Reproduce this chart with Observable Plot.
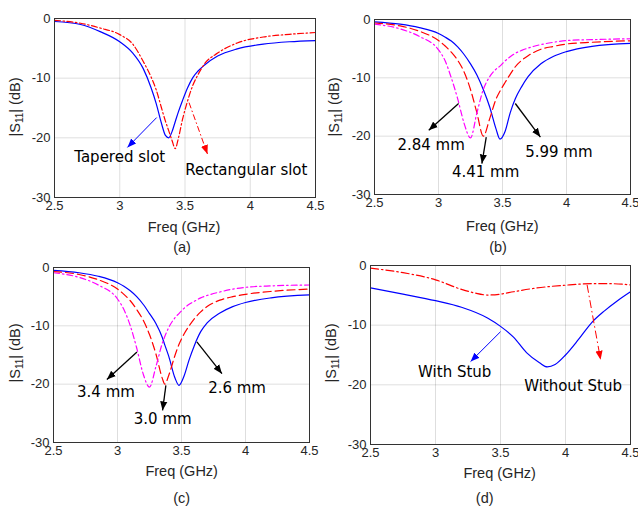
<!DOCTYPE html>
<html><head><meta charset="utf-8">
<script src="https://cdn.jsdelivr.net/npm/d3@7"></script>
<script src="https://cdn.jsdelivr.net/npm/@observablehq/plot@0.6"></script>
<style>
html,body{margin:0;padding:0;background:#fff;}
#root{position:relative;width:638px;height:506px;overflow:hidden;background:#fff;}
#root svg{position:absolute;overflow:visible;}
</style></head><body><div id="root"></div>
<script>
// ---------- shared ticks ----------
const xTicks = [2.5, 3, 3.5, 4, 4.5];
const yTicks = [0, -10, -20, -30];
const xLabel = "Freq (GHz)";
const captions = ["(a)", "(b)", "(c)", "(d)"];

// ---------- panel (a) ----------
const freqA = [2.5, 2.7, 2.85, 3.0, 3.1, 3.18, 3.24, 3.28, 3.32, 3.35, 3.375, 3.4, 3.425, 3.45, 3.48, 3.52, 3.56, 3.6, 3.65, 3.75, 3.9, 4.1, 4.3, 4.5];
const taperedSlot = [-0.5, -1.0, -2.2, -3.9, -5.8, -8.4, -11.6, -14.3, -17.6, -19.6, -20.0, -19.0, -17.3, -15.6, -13.8, -11.6, -9.9, -8.8, -7.8, -6.3, -5.1, -4.3, -3.9, -3.7];
const rectSlot = [-0.3, -0.8, -1.6, -2.7, -4.3, -7.2, -9.8, -12.0, -15.0, -17.2, -18.8, -20.4, -21.8, -20.0, -17.0, -13.8, -11.2, -9.4, -7.6, -5.8, -4.1, -3.1, -2.65, -2.35];
const labelsA = ["Tapered slot", "Rectangular slot"];
const labelXA = [3.0, 3.97];
const labelYA = [-23.2, -25.5];
const arrowsA = {x1: [3.283, 3.531], y1: [-16.6, -14.1], x2: [3.059, 3.672], y2: [-21.6, -22.7]};

// ---------- panel (b) ----------
const freqB = [2.5, 2.7, 2.85, 3.0, 3.05, 3.1, 3.15, 3.2, 3.25, 3.3, 3.35, 3.4, 3.45, 3.48, 3.52, 3.56, 3.6, 3.65, 3.7, 3.8, 3.9, 4.0, 4.2, 4.5];
const b599 = [-0.4, -0.8, -1.4, -2.4, -3.0, -3.7, -4.7, -6.0, -7.6, -9.5, -12.0, -15.0, -18.8, -20.5, -19.2, -16.0, -13.6, -11.5, -9.8, -7.6, -6.3, -5.5, -4.6, -4.1];
const b441 = [-0.6, -1.1, -2.0, -3.6, -4.5, -5.6, -7.0, -9.0, -12.0, -16.0, -20.0, -17.0, -13.6, -12.3, -10.8, -9.4, -8.1, -7.0, -6.2, -5.1, -4.6, -4.2, -3.9, -3.65];
const b284 = [-0.8, -1.6, -2.9, -5.2, -7.0, -10.0, -13.6, -17.8, -20.3, -16.0, -12.0, -9.8, -8.5, -8.0, -7.1, -6.4, -5.8, -5.3, -4.9, -4.3, -3.9, -3.6, -3.45, -3.3];
const labelsB = ["2.84 mm", "4.41 mm", "5.99 mm"];
const labelXB = [2.942, 3.368, 3.94];
const labelYB = [-21.6, -26.1, -22.7];
const arrowsB = {x1: [3.157, 3.373, 3.6], y1: [-14.4, -20.15, -14.4], x2: [2.924, 3.339, 3.796], y2: [-19.0, -24.7, -20.15]};

// ---------- panel (c) ----------
const freqC = [2.5, 2.7, 2.85, 3.0, 3.05, 3.1, 3.15, 3.2, 3.25, 3.3, 3.35, 3.37, 3.4, 3.45, 3.48, 3.52, 3.56, 3.6, 3.65, 3.7, 3.8, 3.9, 4.0, 4.2, 4.5];
const c26 = [-0.5, -0.9, -1.5, -2.6, -3.2, -4.0, -5.0, -6.3, -7.9, -9.6, -12.0, -13.3, -15.2, -19.0, -20.2, -18.6, -15.8, -13.4, -11.0, -9.5, -7.8, -6.7, -6.0, -5.2, -4.7];
const c30 = [-0.7, -1.2, -2.1, -3.7, -4.6, -5.7, -7.2, -9.0, -11.5, -14.8, -19.0, -20.0, -18.5, -15.0, -13.2, -11.4, -10.0, -8.8, -7.6, -6.7, -5.6, -5.0, -4.6, -4.1, -3.7];
const c34 = [-0.9, -1.7, -3.0, -5.4, -7.2, -10.0, -13.8, -18.2, -20.5, -17.0, -13.0, -11.8, -10.3, -8.6, -7.9, -7.0, -6.3, -5.8, -5.2, -4.8, -4.2, -3.7, -3.4, -3.15, -3.0];
const labelsC = ["3.4 mm", "3.0 mm", "2.6 mm"];
const labelXC = [2.91, 3.353, 3.934];
const labelYC = [-21.3, -26.0, -20.75];
const arrowsC = {x1: [3.152, 3.378, 3.62], y1: [-14.5, -20.2, -12.75], x2: [2.917, 3.352, 3.816], y2: [-19.2, -24.5, -18.2]};

// ---------- panel (d) ----------
const freqD = [2.5, 2.75, 3.0, 3.2, 3.4, 3.5, 3.6, 3.7, 3.8, 3.86, 3.92, 4.0, 4.1, 4.2, 4.3, 4.4, 4.5];
const withStub = [-3.75, -4.8, -5.9, -7.0, -8.8, -10.2, -12.0, -14.6, -16.3, -17.0, -16.6, -15.0, -12.4, -9.6, -7.6, -5.9, -4.4];
const freqD2 = [2.5, 2.75, 3.0, 3.2, 3.3, 3.4, 3.5, 3.6, 3.75, 4.0, 4.2, 4.35, 4.5];
const withoutStub = [-0.45, -1.2, -2.4, -4.0, -4.6, -4.95, -4.8, -4.4, -3.85, -3.3, -3.05, -3.05, -3.25];
const labelsD = ["With Stub", "Without Stub"];
const labelXD = [3.148, 4.058];
const labelYD = [-17.8, -20.2];
const arrowsD = {x1: [3.5, 4.166], y1: [-11.1, -3.25], x2: [3.27, 4.27], y2: [-16.1, -15.8]};

// ---------- drawing helpers ----------
const TICK_FONT = "'Liberation Sans', Arial, sans-serif";
const ANNOT_FONT = "'DejaVu Sans', Verdana, sans-serif";

function filledArrow(color) {
  const m = d3.create("svg:marker")
    .attr("viewBox", "-9 -4 10 8")
    .attr("markerWidth", 10).attr("markerHeight", 8)
    .attr("markerUnits", "userSpaceOnUse")
    .attr("orient", "auto")
    .attr("refX", 0).attr("refY", 0)
    .attr("fill", color).attr("stroke", "none");
  m.append("path").attr("d", "M-9,-3.6L0,0L-9,3.6Z");
  return m.node();
}

function drawPanel(cfg) {
  const marks = [
    Plot.gridX(xTicks, {stroke: "#000", strokeOpacity: 0.13}),
    Plot.gridY(yTicks, {stroke: "#000", strokeOpacity: 0.13}),
    Plot.axisX(xTicks, {tickSize: 0, tickPadding: 3, label: null, tickFormat: d => String(d)}),
    Plot.axisY(yTicks, {tickSize: 0, tickPadding: 4, label: null, tickFormat: d => String(d)})
  ];
  for (const s of cfg.series) {
    marks.push(Plot.line(s.v, {x: s.f, y: s.v, stroke: s.color, strokeWidth: 1.2, strokeDasharray: s.dash, curve: "monotone-x"}));
  }
  const a = cfg.arrows;
  const idx = a.x1.map((_, i) => i);
  idx.forEach(i => {
    marks.push(Plot.link([i], {x1: [a.x1[i]], y1: [a.y1[i]], x2: [a.x2[i]], y2: [a.y2[i]],
      stroke: cfg.arrowColors[i], strokeWidth: cfg.arrowWidth, strokeDasharray: cfg.arrowDash[i],
      markerEnd: filledArrow}));
  });
  marks.push(Plot.text(cfg.labels, {x: cfg.lx, y: cfg.ly, text: d => d, fontFamily: ANNOT_FONT, fontSize: 15, fill: "#000", textAnchor: "middle", lineAnchor: "middle"}));
  marks.push(Plot.frame({stroke: "#333", strokeWidth: 1}));

  const svg = Plot.plot({
    width: 319, height: 253,
    marginLeft: cfg.m[0], marginRight: cfg.m[1], marginTop: cfg.m[2], marginBottom: cfg.m[3],
    x: {domain: [2.5, 4.5]},
    y: {domain: [-30, 0]},
    style: {fontFamily: TICK_FONT, fontSize: "13px", color: "#262626", background: "transparent", overflow: "visible"},
    marks
  });
  const s = d3.select(svg);
  s.style("left", cfg.pos[0] + "px").style("top", cfg.pos[1] + "px");
  // x label and caption
  s.append("text").attr("x", cfg.xl[0]).attr("y", cfg.xl[1]).attr("text-anchor", "middle").attr("dominant-baseline", "central")
    .attr("font-family", TICK_FONT).attr("font-size", 14.5).attr("fill", "#262626").text(xLabel);
  s.append("text").attr("x", cfg.cap[0]).attr("y", cfg.cap[1]).attr("text-anchor", "middle").attr("dominant-baseline", "central")
    .attr("font-family", TICK_FONT).attr("font-size", 14.5).attr("fill", "#262626").text(cfg.caption);
  // y label with subscript
  const t = s.append("text").attr("transform", `translate(${cfg.yl[0]},${cfg.yl[1]}) rotate(-90)`)
    .attr("text-anchor", "middle").attr("dominant-baseline", "central")
    .attr("font-family", TICK_FONT).attr("font-size", 14.5).attr("fill", "#262626");
  t.append("tspan").text("|S");
  t.append("tspan").attr("font-size", 10).attr("dy", 4).text("11");
  t.append("tspan").attr("dy", -4).text("| (dB)");
  document.getElementById("root").appendChild(svg);
}

const BLUE = "#0000ff", RED = "#ff0000", MAG = "#ff00ff";

drawPanel({
  pos: [0, 0], m: [54, 4, 18, 56],
  series: [
    {f: freqA, v: taperedSlot, color: BLUE, dash: null},
    {f: freqA, v: rectSlot, color: RED, dash: "6,2.5,1.5,2.5"}
  ],
  arrows: arrowsA, arrowColors: [BLUE, RED], arrowDash: [null, "6,2.5,1.5,2.5"], arrowWidth: 1,
  labels: labelsA, lx: labelXA, ly: labelYA,
  xl: [184, 226.7], cap: [182, 246.7], caption: captions[0], yl: [15, 107]
});
drawPanel({
  pos: [319, 0], m: [55, 8, 19, 59],
  series: [
    {f: freqB, v: b599, color: BLUE, dash: null},
    {f: freqB, v: b441, color: RED, dash: "8,4"},
    {f: freqB, v: b284, color: MAG, dash: "6,3,1.5,3"}
  ],
  arrows: arrowsB, arrowColors: ["#000", "#000", "#000"], arrowDash: [null, null, null], arrowWidth: 1.3,
  labels: labelsB, lx: labelXB, ly: labelYB,
  xl: [183.3, 226], cap: [179, 246.7], caption: captions[1], yl: [14.7, 107]
});
drawPanel({
  pos: [0, 253], m: [53, 10, 14, 64],
  series: [
    {f: freqC, v: c26, color: BLUE, dash: null},
    {f: freqC, v: c30, color: RED, dash: "8,4"},
    {f: freqC, v: c34, color: MAG, dash: "6,3,1.5,3"}
  ],
  arrows: arrowsC, arrowColors: ["#000", "#000", "#000"], arrowDash: [null, null, null], arrowWidth: 1.3,
  labels: labelsC, lx: labelXC, ly: labelYC,
  xl: [181.7, 218.3], cap: [181.7, 244.5], caption: captions[2], yl: [15, 100]
});
drawPanel({
  pos: [319, 253], m: [51, 8, 12, 62],
  series: [
    {f: freqD, v: withStub, color: BLUE, dash: null},
    {f: freqD2, v: withoutStub, color: RED, dash: "8,3,1.5,3"}
  ],
  arrows: arrowsD, arrowColors: [BLUE, RED], arrowDash: [null, "8,3,1.5,3"], arrowWidth: 1,
  labels: labelsD, lx: labelXD, ly: labelYD,
  xl: [180.7, 220], cap: [165.7, 244.5], caption: captions[3], yl: [12.3, 100]
});
</script></body></html>
